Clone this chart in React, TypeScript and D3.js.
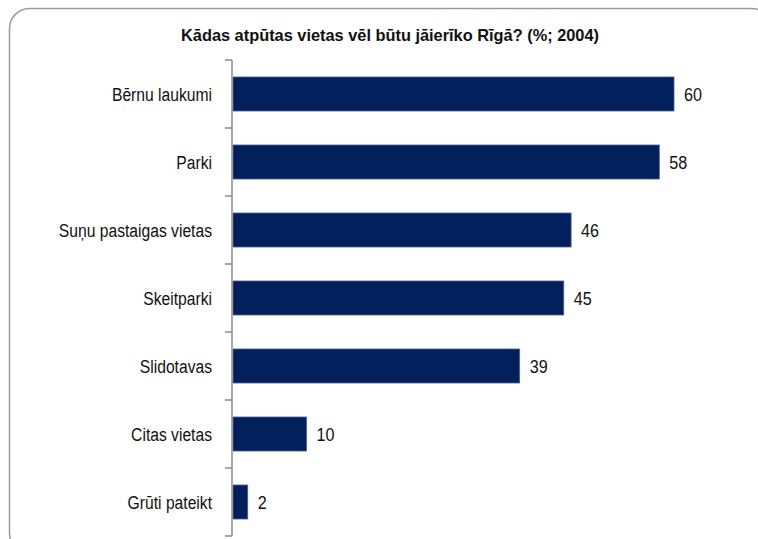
import React from "react";
import * as d3 from "d3";

const categories = [
  "Bērnu laukumi",
  "Parki",
  "Suņu pastaigas vietas",
  "Skeitparki",
  "Slidotavas",
  "Citas vietas",
  "Grūti pateikt",
];
const values = [60, 58, 46, 45, 39, 10, 2];
const title = "Kādas atpūtas vietas vēl būtu jāierīko Rīgā? (%; 2004)";

const W = 758;
const H = 539;
const axisX = 232;
const top = 60;
const bottom = 536;

export default function App() {
  const y = d3.scaleBand<string>().domain(categories).range([top, bottom]).paddingInner(0.5).paddingOuter(0.25);
  const x = d3.scaleLinear().domain([0, 60]).range([axisX + 1, 674]);
  const step = (bottom - top) / categories.length;
  const tickYs = d3.range(categories.length + 1).map((i) => top + i * step);
  const font = "'Liberation Sans', Arial, sans-serif";

  return (
    <svg
      width={W}
      height={H}
      style={{ position: "absolute", left: 0, top: 0, background: "#fff" }}
      fontFamily={font}
    >
      <rect x={9.5} y={8.5} width={762} height={545} rx={20} ry={20} fill="#fff" stroke="#9a9a9a" strokeWidth={1.5} />
      <text
        x={390}
        y={41}
        textAnchor="middle"
        fontWeight="bold"
        fontSize={17}
        textLength={418}
        lengthAdjust="spacingAndGlyphs"
        fill="#111"
      >
        {title}
      </text>
      {categories.map((c, i) => {
        const by = y(c) as number;
        const bh = y.bandwidth();
        const cy = by + bh / 2;
        return (
          <g key={c}>
            <rect
              x={x(0)}
              y={by}
              width={x(values[i]) - x(0)}
              height={bh}
              fill="#02205c"
              stroke="#4b5e93"
              strokeWidth={0.8}
            />
            <g transform={`translate(212,${cy + 6.7}) scale(0.87,1)`}>
              <text textAnchor="end" fontSize={18} fill="#111">
                {c}
              </text>
            </g>
            <g transform={`translate(${x(values[i]) + 10},${cy + 7}) scale(0.85,1)`}>
              <text textAnchor="start" fontSize={19} fill="#111">
                {values[i]}
              </text>
            </g>
          </g>
        );
      })}
      <line x1={axisX} x2={axisX} y1={top} y2={bottom} stroke="#8c8c8c" strokeWidth={1.5} />
      {tickYs.map((t, i) => (
        <line key={i} x1={axisX - 7} x2={axisX} y1={t} y2={t} stroke="#8c8c8c" strokeWidth={1.5} />
      ))}
    </svg>
  );
}
